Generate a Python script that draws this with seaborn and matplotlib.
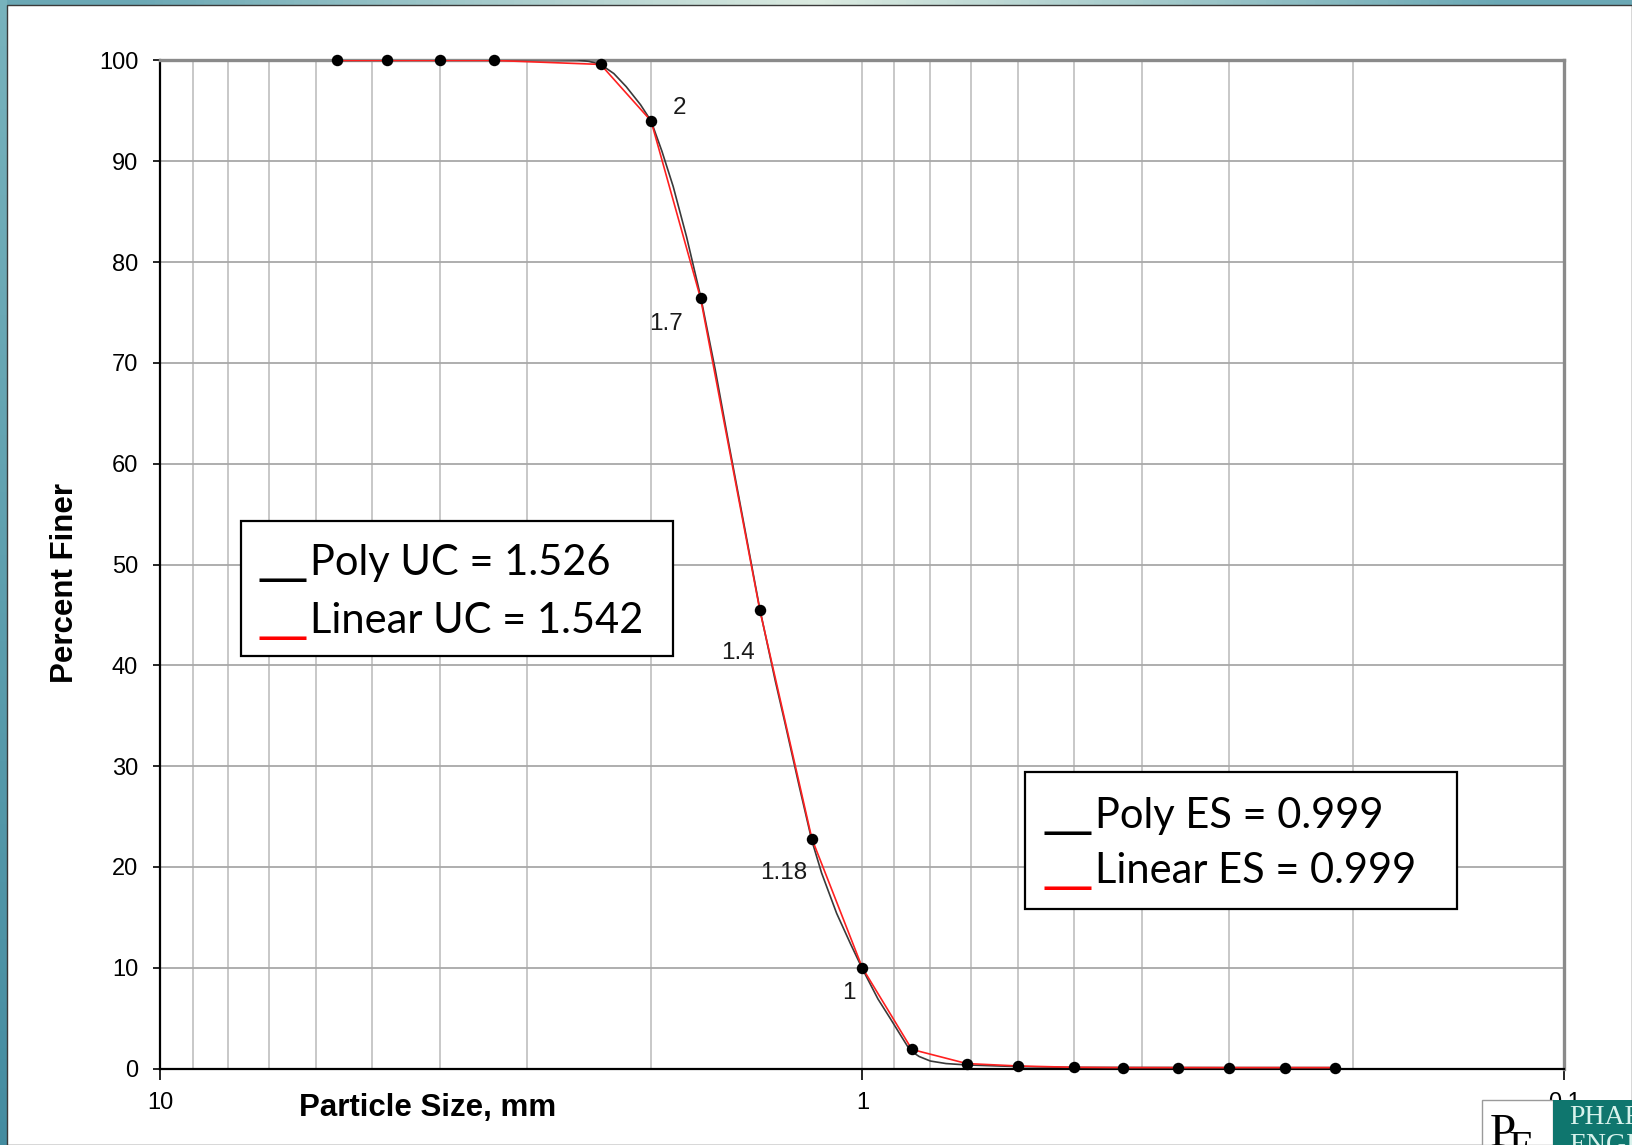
import numpy as np
import pandas as pd
import matplotlib
matplotlib.use("Agg")
import matplotlib.pyplot as plt
import seaborn as sns
from matplotlib.patches import Rectangle
from matplotlib.ticker import FixedLocator, LogLocator, NullFormatter, FixedFormatter

# ---------------- data ----------------
sieve_mm = [5.6, 4.75, 4.0, 3.35, 2.36, 2.0, 1.7, 1.4, 1.18, 1.0,
            0.85, 0.71, 0.6, 0.5, 0.425, 0.355, 0.3, 0.25, 0.212]
percent_finer = [100.0, 100.0, 100.0, 100.0, 99.6, 94.0, 76.4, 45.5, 22.8, 10.0,
                 1.9, 0.5, 0.26, 0.13, 0.1, 0.1, 0.1, 0.1, 0.1]

# polynomial fit curve
poly_mm = [5.6, 3.35, 2.8, 2.55, 2.45, 2.36, 2.26, 2.17, 2.07, 2.0, 1.93, 1.86,
           1.78, 1.7, 1.62, 1.55, 1.47, 1.4, 1.33, 1.29, 1.23, 1.18, 1.143, 1.088,
           1.04, 1.0, 0.95, 0.913, 0.88, 0.855, 0.83, 0.8, 0.76, 0.71, 0.6, 0.5,
           0.3, 0.212]
poly_pct = [100.0, 100.05, 100.1, 100.05, 99.9, 99.6, 98.7, 97.4, 95.6, 94.0, 91.0, 87.5,
            82.5, 76.6, 69.3, 62.0, 53.5, 45.6, 38.4, 34.4, 28.0, 22.6, 19.4, 15.4,
            12.4, 9.9, 6.9, 5.0, 3.2, 1.8, 1.2, 0.75, 0.5, 0.36, 0.2, 0.12,
            0.1, 0.1]

label_sizes = [2.0, 1.7, 1.4, 1.18, 1.0]
label_texts = ["2", "1.7", "1.4", "1.18", "1"]

x_tick_values = [10, 1, 0.1]
x_tick_labels = ["10", "1", "0.1"]
y_tick_values = [0, 10, 20, 30, 40, 50, 60, 70, 80, 90, 100]

uc_lines = ["Poly UC = 1.526", "Linear UC = 1.542"]
es_lines = ["Poly ES = 0.999", "Linear ES = 0.999"]

# ---------------- figure ----------------
sns.set_theme(style="white")
plt.rcParams['font.family'] = ['Liberation Sans', 'DejaVu Sans']

W, H = 1633, 1145
fig = plt.figure(figsize=(W / 100, H / 100), dpi=100)
fig.patch.set_facecolor('#5f9eab')

def fx(px):
    return px / W

def fy(py):
    return 1 - py / H

# top gradient strip
top_ax = fig.add_axes([0, fy(5), 1, 5 / H], zorder=-5)
top_ax.axis('off')
t = np.linspace(0, 1, 200)
c_teal = np.array([0.42, 0.66, 0.71])
c_pale = np.array([0.86, 0.92, 0.88])
mix = np.clip(1 - np.abs(t - 0.5) / 0.42, 0, 1)[:, None]
grad = (c_teal * (1 - mix) + c_pale * mix)[None, :, :]
top_ax.imshow(grad, aspect='auto', extent=[0, 1, 0, 1])
top_ax.set_xlim(0, 1); top_ax.set_ylim(0, 1)

# left gradient strip
left_ax = fig.add_axes([0, 0, 7 / W, 1], zorder=-5)
left_ax.axis('off')
v = np.linspace(0, 1, 200)[:, None]
c_top = np.array([0.47, 0.70, 0.74]); c_bot = np.array([0.27, 0.55, 0.63])
lgrad = (c_bot * (1 - v) + c_top * v)[:, None, :]
left_ax.imshow(lgrad, aspect='auto', extent=[0, 1, 0, 1], origin='lower')
left_ax.set_xlim(0, 1); left_ax.set_ylim(0, 1)

# white panel
fig.patches.append(Rectangle((fx(7), 0), fx(W - 1) - fx(7), fy(5), transform=fig.transFigure,
                             facecolor='white', edgecolor='#3a3a3a', linewidth=1.0, zorder=-1))

# ---------------- main axes ----------------
ax_left, ax_right, ax_top, ax_bot = 160.4, 1564.3, 60.4, 1068.6
ax = fig.add_axes([fx(ax_left), fy(ax_bot), (ax_right - ax_left) / W, (ax_bot - ax_top) / H])
ax.set_facecolor('white')

df_pts = pd.DataFrame({"size": sieve_mm, "pct": percent_finer})
df_poly = pd.DataFrame({"size": poly_mm, "pct": poly_pct})

sns.lineplot(data=df_poly, x="size", y="pct", ax=ax, color='#3a3a3a', linewidth=1.2,
             sort=False, estimator=None, zorder=3)
sns.lineplot(data=df_pts, x="size", y="pct", ax=ax, color='#ff2020', linewidth=1.2,
             sort=False, estimator=None, zorder=4)
sns.scatterplot(data=df_pts, x="size", y="pct", ax=ax, color='black', s=68,
                edgecolor='black', linewidth=0, zorder=5, clip_on=False)

ax.set_xscale('log')
ax.set_xlim(10, 0.1)
ax.set_ylim(0, 100)

ax.xaxis.set_major_locator(FixedLocator(x_tick_values))
ax.xaxis.set_major_formatter(FixedFormatter(x_tick_labels))
ax.xaxis.set_minor_locator(LogLocator(base=10, subs=np.arange(2, 10)))
ax.xaxis.set_minor_formatter(NullFormatter())
ax.yaxis.set_major_locator(FixedLocator(y_tick_values))

ax.grid(True, which='both', axis='x', color='#c4c4c4', linewidth=1.3)
ax.grid(True, which='major', axis='y', color='#a8a8a8', linewidth=1.3)
ax.set_axisbelow(True)

ax.tick_params(axis='x', which='major', direction='out', length=8, width=1.2, color='black',
               labelsize=17, pad=9, bottom=True)
ax.tick_params(axis='x', which='minor', length=0)
ax.tick_params(axis='y', which='major', direction='out', length=5, width=1.2, color='black',
               labelsize=17, pad=11, left=True)
for lab in ax.get_xticklabels() + ax.get_yticklabels():
    lab.set_color('black')

for s in ['left', 'bottom']:
    ax.spines[s].set_color('black'); ax.spines[s].set_linewidth(1.6)
for s in ['top', 'right']:
    ax.spines[s].set_color('#8a8a8a'); ax.spines[s].set_linewidth(2.4)

ax.set_xlabel("Particle Size, mm", fontsize=22.5, fontweight='bold', color='black')
ax.xaxis.set_label_coords(0.1906, -0.024)
ax.set_ylabel("Percent Finer", fontsize=22.5, fontweight='bold', color='black')
ax.yaxis.set_label_coords(-0.057, 0.4817)

# point labels
offsets = [(28, 13), (-35, -26), (-22, -43), (-28, -34), (-13, -25)]
for s_mm, txt, off in zip(label_sizes, label_texts, offsets):
    yv = percent_finer[sieve_mm.index(s_mm)]
    ax.annotate(txt, xy=(s_mm, yv), xytext=off, textcoords='offset pixels',
                ha='center', va='center', fontsize=17.5, color='#1a1a1a', zorder=6)

# ---------------- text boxes ----------------
box_font = ['Lato', 'DejaVu Sans']

def text_box(x0, y0, x1, y1, u_x, t_x, baselines, lines):
    fig.patches.append(Rectangle((fx(x0), fy(y1)), fx(x1) - fx(x0), fy(y0) - fy(y1),
                                 transform=fig.transFigure, facecolor='white',
                                 edgecolor='black', linewidth=1.6, zorder=4))
    for b, line, col in zip(baselines, lines, ['black', '#ff0000']):
        fig.text(fx(u_x), fy(b - 4), "__", color=col, fontsize=34,
                 family=['DejaVu Sans'], va='baseline', ha='left', zorder=5)
        fig.text(fx(t_x), fy(b), line, color='black', fontsize=30, family=box_font,
                 va='baseline', ha='left', zorder=5)

text_box(241, 521, 673, 656, 260, 310, [575, 633], uc_lines)
text_box(1025, 772, 1457, 909, 1045, 1095, [828, 883], es_lines)

# ---------------- logo (bottom-right) ----------------
fig.patches.append(Rectangle((fx(1482), 0), fx(1553) - fx(1482), fy(1100),
                             transform=fig.transFigure, facecolor='white',
                             edgecolor='#9a9a9a', linewidth=1.0, zorder=6))
fig.patches.append(Rectangle((fx(1553), 0), fx(W) - fx(1553), fy(1100),
                             transform=fig.transFigure, facecolor='#0f766e',
                             edgecolor='none', zorder=6))
fig.text(fx(1490), fy(1146), "P", fontsize=34, family=['Liberation Serif', 'DejaVu Serif'],
         color='black', va='baseline', ha='left', zorder=7)
fig.text(fx(1509), fy(1160), "E", fontsize=30, family=['Liberation Serif', 'DejaVu Serif'],
         color='black', va='baseline', ha='left', zorder=7)
fig.text(fx(1569), fy(1124), "PHARMACEUTICAL", fontsize=20,
         family=['Liberation Serif', 'DejaVu Serif'], color='#d8f2ec',
         va='baseline', ha='left', zorder=7)
fig.text(fx(1569), fy(1152), "ENGINEERING", fontsize=20,
         family=['Liberation Serif', 'DejaVu Serif'], color='#d8f2ec',
         va='baseline', ha='left', zorder=7)

fig.savefig("out.png", dpi=100)
